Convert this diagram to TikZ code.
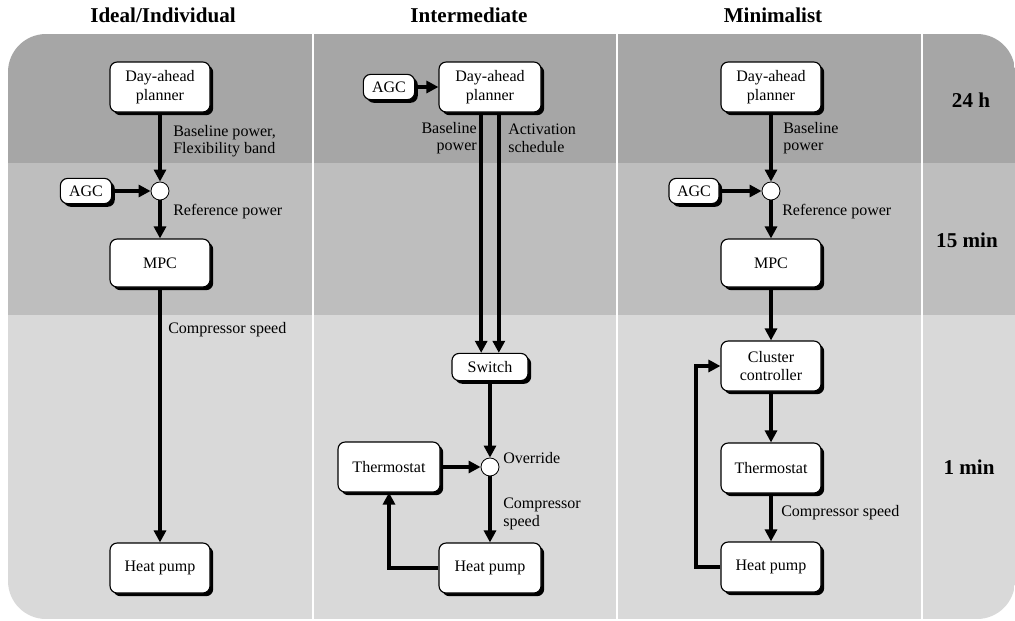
\documentclass[tikz,border=0pt]{standalone}
\usepackage{fontspec}
\setmainfont{Liberation Serif}
\usetikzlibrary{arrows.meta,shadows}

\definecolor{bandday}{gray}{0.65}
\definecolor{bandquarter}{gray}{0.745}
\definecolor{bandminute}{gray}{0.85}

\tikzset{
    block/.style={draw, line width=0.8pt, rounded corners=0.18cm, fill=white,
        align=center, minimum width=2.5cm, minimum height=1.25cm, inner sep=0pt,
        font=\fontsize{11.4}{13}\selectfont,
        drop shadow={shadow xshift=0.08cm, shadow yshift=-0.08cm, fill=black, opacity=1}},
    smallblock/.style={block, minimum width=1.28cm, minimum height=0.63cm},
    sum/.style={draw, circle, fill=white, line width=0.6pt, minimum size=0.45cm, inner sep=0pt},
    signal/.style={line width=2.8pt, -{Triangle[length=0.3cm, width=0.3cm]}},
    lbl/.style={font=\fontsize{11.4}{12.5}\selectfont, align=left, inner sep=0pt},
    title/.style={font=\fontsize{15}{18}\selectfont\bfseries},
}

\begin{document}
\begin{tikzpicture}[x=0.025cm, y=-0.025cm]

    \useasboundingbox (0,0) rectangle (1015,620);

    % Draw background bands
    \begin{scope}
        \clip[rounded corners=0.95cm] (8,34) rectangle (1015,619);
        \fill[bandday] (8,34) rectangle (1015,163);
        \fill[bandquarter] (8,163) rectangle (1015,315);
        \fill[bandminute] (8,315) rectangle (1015,619);
    \end{scope}

    % Column separators
    \foreach \x in {313,617,922} {
        \draw[white, line width=1.5pt] (\x,34) -- (\x,619);
    }

    % Column and time titles
    \node[title] (headIdeal) at (163,15) {Ideal/Individual};
    \node[title] (headInter) at (469,15) {Intermediate};
    \node[title] (headMini) at (773,15) {Minimalist};
    \node[title] (time24) at (971,100) {24 h};
    \node[title] (time15) at (967,240) {15 min};
    \node[title] (time1) at (969,467) {1 min};

    % Ideal/Individual column
    \node[block] (planL) at (160,87) {Day-ahead\\planner};
    \node[sum] (sumL) at (160,191) {};
    \node[smallblock] (agcL) at (86,191) {AGC};
    \node[block, minimum height=1.2cm] (mpcL) at (160,263) {MPC};
    \node[block] (hpL) at (160,568) {Heat pump};

    \draw[signal] (planL) -- (sumL);
    \draw[signal] (agcL) -- (sumL);
    \draw[signal] (sumL) -- (mpcL);
    \draw[signal] (mpcL) -- (hpL);

    \node[lbl, anchor=west] (txtBaseL) at (173,141) {Baseline power,\\Flexibility band};
    \node[lbl, anchor=west] (txtRefL) at (173,212) {Reference power};
    \node[lbl, anchor=west] (txtSpeedL) at (168,330) {Compressor speed};

    % Intermediate column
    \node[smallblock] (agcM) at (389,87) {AGC};
    \node[block, minimum width=2.55cm] (planM) at (490,87) {Day-ahead\\planner};
    \node[block, minimum width=1.9cm, minimum height=0.68cm] (switchM) at (490,367) {Switch};
    \node[sum] (sumM) at (490,467) {};
    \node[block, minimum width=2.55cm] (thermoM) at (389,467) {Thermostat};
    \node[block, minimum width=2.55cm] (hpM) at (490,568) {Heat pump};

    \draw[signal] (agcM) -- (planM);
    \draw[signal] ([xshift=-0.22cm]planM.south) -- ([xshift=-0.22cm]switchM.north);
    \draw[signal] ([xshift=0.22cm]planM.south) -- ([xshift=0.22cm]switchM.north);
    \draw[signal] (switchM) -- (sumM);
    \draw[signal] (thermoM) -- (sumM);
    \draw[signal] (sumM) -- (hpM);
    \draw[signal] (hpM.west) -| (thermoM.south);

    \node[lbl, anchor=east, align=right] (txtBaseM) at (477,138) {Baseline\\power};
    \node[lbl, anchor=west] (txtActM) at (508,138) {Activation\\schedule};
    \node[lbl, anchor=west] (txtOverM) at (503,458) {Override};
    \node[lbl, anchor=west] (txtSpeedM) at (503,514) {Compressor\\speed};

    % Minimalist column
    \node[block] (planR) at (771,87) {Day-ahead\\planner};
    \node[sum] (sumR) at (771,191) {};
    \node[smallblock, minimum width=1.25cm] (agcR) at (694,191) {AGC};
    \node[block, minimum height=1.2cm] (mpcR) at (771,263) {MPC};
    \node[block] (clusterR) at (771,366) {Cluster\\controller};
    \node[block] (thermoR) at (771,468) {Thermostat};
    \node[block] (hpR) at (771,567) {Heat pump};
    \coordinate (loopR) at (696,567);

    \draw[signal] (planR) -- (sumR);
    \draw[signal] (agcR) -- (sumR);
    \draw[signal] (sumR) -- (mpcR);
    \draw[signal] (mpcR) -- (clusterR);
    \draw[signal] (clusterR) -- (thermoR);
    \draw[signal] (thermoR) -- (hpR);
    \draw[signal] (hpR.west) -- (loopR) |- (clusterR.west);

    \node[lbl, anchor=west] (txtBaseR) at (783,138) {Baseline\\power};
    \node[lbl, anchor=west] (txtRefR) at (782,212) {Reference power};
    \node[lbl, anchor=west] (txtSpeedR) at (781,513) {Compressor speed};

\end{tikzpicture}
\end{document}
